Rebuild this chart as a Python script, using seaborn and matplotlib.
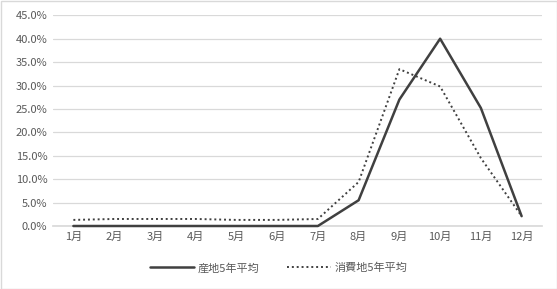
import matplotlib
matplotlib.use("Agg")
import matplotlib.pyplot as plt
import seaborn as sns
import pandas as pd
from matplotlib.ticker import FuncFormatter, MultipleLocator
from matplotlib.lines import Line2D

months = ["1月", "2月", "3月", "4月", "5月", "6月", "7月", "8月", "9月", "10月", "11月", "12月"]
sanchi = [0.0, 0.0, 0.0, 0.0, 0.0, 0.0, 0.0, 5.5, 27.0, 40.0, 25.2, 2.1]
shohichi = [1.3, 1.5, 1.5, 1.5, 1.3, 1.3, 1.5, 9.4, 33.5, 29.8, 14.5, 2.1]
series_names = ["産地5年平均", "消費地5年平均"]

sns.set_theme(style="white")
plt.rcParams['font.family'] = ['Noto Sans CJK JP', 'DejaVu Sans']

df = pd.DataFrame({"month": months * 2,
                   "value": sanchi + shohichi,
                   "series": [series_names[0]] * 12 + [series_names[1]] * 12})
df["x"] = list(range(12)) * 2

fig = plt.figure(figsize=(5.57, 2.89), dpi=100)
ax = fig.add_axes([53/557, 63/289, (542-53)/557, (226-15.3)/289])

sns.lineplot(data=df, x="x", y="value", hue="series", style="series",
             palette=["#404040", "#404040"],
             dashes={series_names[0]: "", series_names[1]: (1, 1.5)},
             linewidth=1.7, ax=ax, legend=False)
for ln, lw in zip(ax.lines, [1.8, 1.4]):
    ln.set_linewidth(lw)
    ln.set_clip_on(False)
    ln.set_zorder(5)

ax.set_xlim(-0.5, 11.5)
ax.set_ylim(0, 45)
ax.yaxis.set_major_locator(MultipleLocator(5))
ax.yaxis.set_major_formatter(FuncFormatter(lambda v, p: f"{v:.1f}%"))
ax.set_xticks(range(12))
ax.set_xticklabels(months)
ax.grid(axis="y", color="#d9d9d9", linewidth=0.9)
ax.set_axisbelow(True)
for s in ["top", "right", "left"]:
    ax.spines[s].set_visible(False)
ax.spines["bottom"].set_color("#d9d9d9")
ax.spines["bottom"].set_zorder(0)
ax.tick_params(axis="both", length=0, labelsize=8, labelcolor="#595959", pad=4)
ax.set_xlabel("")
ax.set_ylabel("")

handles = [Line2D([], [], color="#404040", linewidth=1.8),
           Line2D([], [], color="#404040", linewidth=1.4, linestyle=(0, (1, 1.5)))]
fig.legend(handles, series_names, loc="center", bbox_to_anchor=(0.5, (289-268)/289),
           ncol=2, frameon=False, fontsize=8, labelcolor="#595959",
           handlelength=4.0, columnspacing=2.5, handletextpad=0.3)

fig.patches.append(plt.Rectangle((0.5/557, 0.5/289), 1 - 1/557, 1 - 1/289, transform=fig.transFigure,
                                 fill=False, edgecolor="#d9d9d9", linewidth=1))
fig.savefig("out.png", dpi=100, facecolor="white")
